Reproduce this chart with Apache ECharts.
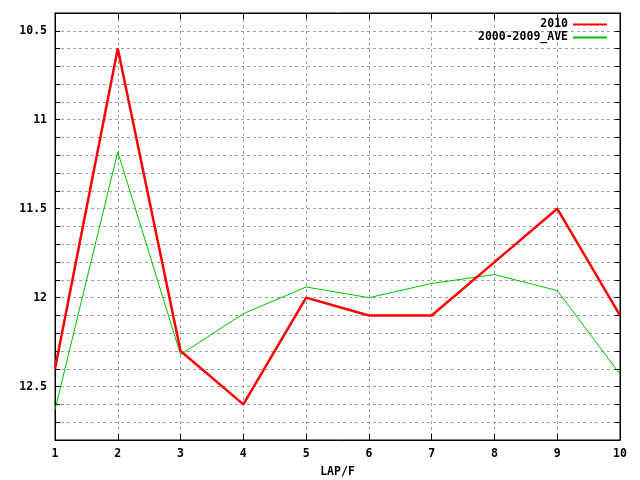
<!DOCTYPE html>
<html><head><meta charset="utf-8">
<script src="https://cdn.jsdelivr.net/npm/echarts@6/dist/echarts.min.js"></script>
<style>html,body{margin:0;padding:0;background:#fff}#c{width:640px;height:480px}</style>
</head><body><div id="c"></div>
<script>
const laps = [1, 2, 3, 4, 5, 6, 7, 8, 9, 10];
const y2010 = [12.4, 10.6, 12.3, 12.6, 12.0, 12.1, 12.1, 11.8, 11.5, 12.1];
const yAve = [12.63, 11.18, 12.32, 12.09, 11.94, 12.0, 11.92, 11.87, 11.96, 12.43];
const yLabels = ['10.5', '11', '11.5', '12', '12.5'];
const xLabel = 'LAP/F';
const names = ['2010', '2000-2009_AVE'];

const font = {fontFamily: 'DejaVu Sans Mono', fontWeight: 'bold', fontSize: 11.5, color: '#000'};
const chart = echarts.init(document.getElementById('c'));
const dash = {color: '#a0a0a0', type: [3, 3], width: 1};
chart.setOption({
  animation: false,
  grid: {left: 55, right: 20, top: 13, bottom: 40, show: true, borderColor: '#000', borderWidth: 1,
         containLabel: false, outerBoundsMode: 'none'},
  legend: {
    orient: 'vertical', right: 33, top: 18, align: 'right', itemGap: 0, padding: 0,
    itemWidth: 34, itemHeight: 2, icon: 'rect',
    textStyle: Object.assign({}, font, {lineHeight: 13}),
    data: names
  },
  xAxis: [{
    type: 'value', min: 1, max: 10, interval: 1,
    name: xLabel, nameLocation: 'middle', nameGap: 26, nameTextStyle: font,
    axisLine: {lineStyle: {color: '#000'}},
    axisTick: {inside: true, length: 6, lineStyle: {color: '#000'}},
    axisLabel: Object.assign({}, font, {margin: 8}),
    splitLine: {show: true, lineStyle: dash}
  }, {
    type: 'value', min: 1, max: 10, interval: 1, position: 'top',
    axisLine: {lineStyle: {color: '#000'}},
    axisTick: {inside: true, length: 6, lineStyle: {color: '#000'}},
    axisLabel: {show: false}, splitLine: {show: false}
  }],
  yAxis: [{
    type: 'value', inverse: true, min: 10.4, max: 12.8, interval: 0.1,
    axisLine: {show: true, lineStyle: {color: '#000'}},
    axisTick: {show: true, inside: true, length: 5, lineStyle: {color: '#000'}},
    axisLabel: Object.assign({}, font, {
      margin: 8,
      formatter: function (v) {
        const s = String(Math.round(v * 10) / 10);
        return yLabels.indexOf(s) >= 0 ? s : '';
      }
    }),
    splitLine: {show: true, lineStyle: dash}
  }, {
    type: 'value', inverse: true, min: 10.4, max: 12.8, interval: 0.1, position: 'right',
    axisLine: {show: true, lineStyle: {color: '#000'}},
    axisTick: {show: true, inside: true, length: 5, lineStyle: {color: '#000'}},
    axisLabel: {show: false}, splitLine: {show: false}
  }],
  series: [{
    name: names[0], type: 'line', showSymbol: false, symbol: 'none',
    lineStyle: {color: '#ff0000', width: 2.5}, itemStyle: {color: '#ff0000'},
    data: laps.map((x, i) => [x, y2010[i]]), z: 3
  }, {
    name: names[1], type: 'line', showSymbol: false, symbol: 'none',
    lineStyle: {color: '#00c000', width: 1}, itemStyle: {color: '#00c000'},
    data: laps.map((x, i) => [x, yAve[i]]), z: 2
  }]
});
</script></body></html>
